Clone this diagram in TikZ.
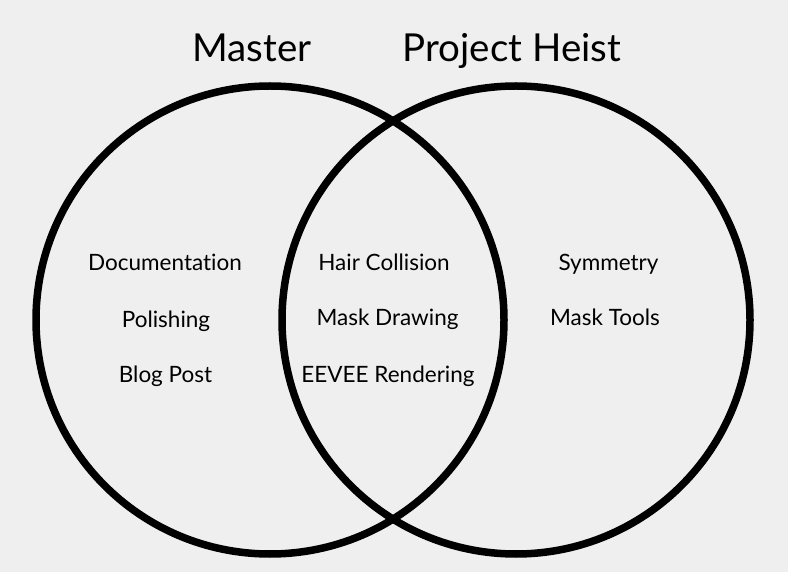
\documentclass[tikz,border=0pt]{standalone}
\usepackage{fontspec}
\setmainfont{Lato}[Ligatures={NoCommon,NoRare,NoDiscretionary},Contextuals=NoAlternate]
\definecolor{bg}{HTML}{EFEFEF}
\begin{document}
\begin{tikzpicture}[x=1pt,y=-1pt,
  venn/.style={circle,draw=black,line width=7.5pt,inner sep=0pt,minimum size=468pt},
  title/.style={anchor=base,inner sep=0pt,font=\fontsize{38.5}{46}\selectfont},
  item/.style={anchor=base,inner sep=0pt,font=\fontsize{22.5}{26}\selectfont}]
\fill[bg] (0,0) rectangle (788,572);
\useasboundingbox (0,0) rectangle (788,572);
\node[venn] (left) at (270,320) {};
\node[venn] (right) at (516,320) {};
\node[title] (tmaster) at (252,62) {Master};
\node[title] (theist) at (512,62) {Project Heist};
\node[item] (doc) at (165,271) {Documentation};
\node[item] (pol) at (166,327) {Polishing};
\node[item] (blog) at (165.5,383) {Blog Post};
\node[item] (hair) at (384,271) {Hair Collision};
\node[item] (maskd) at (387.5,326) {Mask Drawing};
\node[item] (eevee) at (388,383) {EEVEE Rendering};
\node[item] (sym) at (608.5,271) {Symmetry};
\node[item] (maskt) at (605,326) {Mask Tools};
\end{tikzpicture}
\end{document}
